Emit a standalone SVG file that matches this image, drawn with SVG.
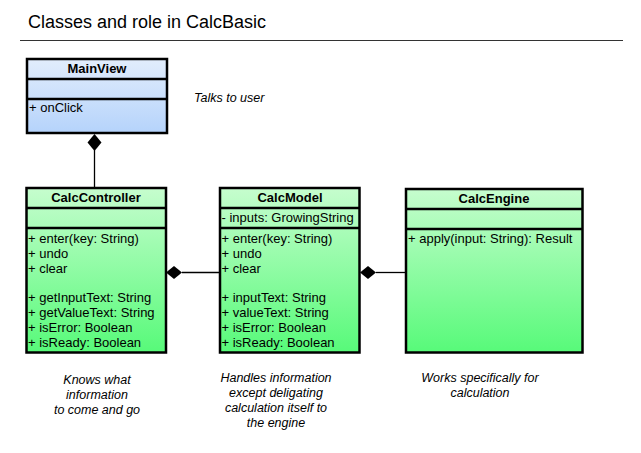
<svg xmlns="http://www.w3.org/2000/svg" width="641" height="453" viewBox="0 0 641 453">
<defs>
<linearGradient id="gBlue" x1="0" y1="0" x2="0" y2="1">
<stop offset="0" stop-color="#e2edfc"/>
<stop offset="1" stop-color="#b5d3fb"/>
</linearGradient>
<linearGradient id="gGreen" x1="0" y1="0" x2="0" y2="1">
<stop offset="0" stop-color="#c6fdce"/>
<stop offset="1" stop-color="#57fa79"/>
</linearGradient>
<style>
.box{stroke:#000;stroke-width:2.5}
.sep{stroke:#000;stroke-width:2.5}
.t{font-family:"Liberation Sans",Arial,sans-serif;font-size:13px;fill:#000}
.h{font-family:"Liberation Sans",Arial,sans-serif;font-size:13px;font-weight:bold;fill:#000;text-anchor:middle}
.n{font-family:"Liberation Sans",Arial,sans-serif;font-size:12.5px;font-style:italic;fill:#000}
.c{text-anchor:middle}
.ln{stroke:#000;stroke-width:1.3;fill:none}
.dm{fill:#000}
</style>
</defs>
<rect width="641" height="453" fill="#fff"/>
<text x="28" y="28" font-family="'Liberation Sans',Arial,sans-serif" font-size="18" fill="#000">Classes and role in CalcBasic</text>
<line x1="20" y1="40.5" x2="623" y2="40.5" stroke="#333" stroke-width="1.2"/>

<g id="connectors">
<line class="ln" x1="94.5" y1="150" x2="94.5" y2="188"/>
<polygon class="dm" points="94.5,134 101.5,142.5 94.5,151 87.5,142.5"/>
<line class="ln" x1="182" y1="272.5" x2="220" y2="272.5"/>
<polygon class="dm" points="166,272.5 174,266 182,272.5 174,279"/>
<line class="ln" x1="376" y1="272.5" x2="406" y2="272.5"/>
<polygon class="dm" points="360,272.5 368,266 376,272.5 368,279"/>
</g>

<g id="MainView">
<rect class="box" x="27" y="59" width="140" height="74" fill="url(#gBlue)"/>
<line class="sep" x1="27" y1="79" x2="167" y2="79"/>
<line class="sep" x1="27" y1="99" x2="167" y2="99"/>
<text class="h" x="97" y="72.5">MainView</text>
<text class="t" x="29" y="112">+ onClick</text>
</g>

<g id="CalcController">
<rect class="box" x="26.5" y="188" width="139.5" height="164.5" fill="url(#gGreen)"/>
<line class="sep" x1="26.5" y1="208" x2="166" y2="208"/>
<line class="sep" x1="26.5" y1="228" x2="166" y2="228"/>
<text class="h" x="96" y="202">CalcController</text>
<text class="t" x="28" y="242.5">+ enter(key: String)</text>
<text class="t" x="28" y="257.5">+ undo</text>
<text class="t" x="28" y="272.5">+ clear</text>
<text class="t" x="28" y="302">+ getInputText: String</text>
<text class="t" x="28" y="317">+ getValueText: String</text>
<text class="t" x="28" y="332">+ isError: Boolean</text>
<text class="t" x="28" y="347">+ isReady: Boolean</text>
</g>

<g id="CalcModel">
<rect class="box" x="220" y="188" width="139.5" height="164.5" fill="url(#gGreen)"/>
<line class="sep" x1="220" y1="208" x2="359.5" y2="208"/>
<line class="sep" x1="220" y1="228" x2="359.5" y2="228"/>
<text class="h" x="290" y="202">CalcModel</text>
<text class="t" x="221.5" y="222">- inputs: GrowingString</text>
<text class="t" x="221.5" y="242.5">+ enter(key: String)</text>
<text class="t" x="221.5" y="257.5">+ undo</text>
<text class="t" x="221.5" y="272.5">+ clear</text>
<text class="t" x="221.5" y="302">+ inputText: String</text>
<text class="t" x="221.5" y="317">+ valueText: String</text>
<text class="t" x="221.5" y="332">+ isError: Boolean</text>
<text class="t" x="221.5" y="347">+ isReady: Boolean</text>
</g>

<g id="CalcEngine">
<rect class="box" x="406" y="189" width="176.5" height="163.5" fill="url(#gGreen)"/>
<line class="sep" x1="406" y1="209" x2="582.5" y2="209"/>
<line class="sep" x1="406" y1="229" x2="582.5" y2="229"/>
<text class="h" x="494" y="203">CalcEngine</text>
<text class="t" x="408" y="243">+ apply(input: String): Result</text>
</g>

<g id="notes">
<text class="n" x="194" y="101.5">Talks to user</text>
<text class="n c" x="97" y="384">Knows what</text>
<text class="n c" x="97" y="399">information</text>
<text class="n c" x="97" y="414">to come and go</text>
<text class="n c" x="276" y="381.5">Handles information</text>
<text class="n c" x="276" y="396.5">except deligating</text>
<text class="n c" x="276" y="411.5">calculation itself to</text>
<text class="n c" x="276" y="426.5">the engine</text>
<text class="n c" x="480" y="381.5">Works specifically for</text>
<text class="n c" x="480" y="396.5">calculation</text>
</g>
</svg>
